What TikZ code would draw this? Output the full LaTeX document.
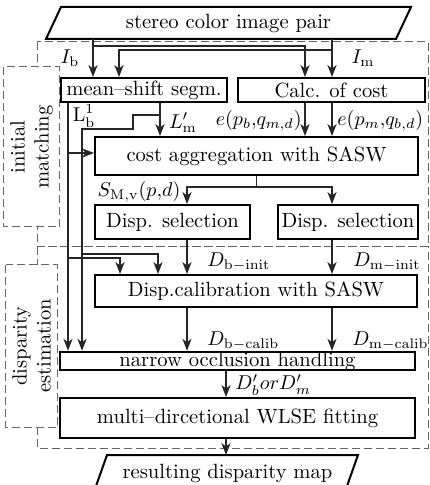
\documentclass[tikz,border=0pt]{standalone}
\usepackage{amsmath,amssymb}
\usepackage{tikz}
\usetikzlibrary{arrows.meta}

\tikzset{
  box/.style={draw,line width=1pt,inner sep=0pt,font=\fontsize{10.3}{12.4}\selectfont},
  lbl/.style={inner sep=0pt,font=\fontsize{10.3}{12.4}\selectfont},
  grp/.style={draw=black!60,dashed,dash pattern=on 4pt off 2pt,line width=0.5pt},
  conn/.style={draw=black!85,line width=0.6pt,-{Stealth[length=6pt,width=4.6pt,inset=1.8pt]}},
}

\begin{document}
\begin{tikzpicture}[x=0.5pt,y=-0.5pt]
    \useasboundingbox (0,0) rectangle (429,485);
    \draw[grp] (37,42) rectangle (428,247);
    \draw[grp] (37,247) rectangle (428,448);
    \node[grp,fill=white,rotate=90,align=center,font=\fontsize{10.3}{12}\selectfont,
      minimum width=80pt,minimum height=23.5pt] (initm) at (31.5,147) {initial\\matching};
    \node[grp,fill=white,rotate=90,align=center,font=\fontsize{10.3}{12}\selectfont,
      minimum width=81pt,minimum height=23.5pt] (dispe) at (31.5,346) {disparity\\estimation};

    \node[box,draw=none,minimum width=174pt,minimum height=15pt] (inp) at (228.5,23) {stereo color image pair};
    \draw[line width=1pt] ([xshift=3.75pt]inp.north west) -- ([xshift=3.75pt]inp.north east)
      -- ([xshift=-3.75pt]inp.south east) -- ([xshift=-3.75pt]inp.south west) -- cycle;
    \node[box,minimum width=83pt,minimum height=12pt] (seg) at (144,90) {mean--shift segm.};
    \node[box,minimum width=93.5pt,minimum height=12pt] (calc) at (331.5,90) {Calc. of cost};
    \node[box,minimum width=161.5pt,minimum height=19pt] (agg) at (256.5,156) {cost aggregation with SASW};
    \node[box,minimum width=77.5pt,minimum height=17pt] (selb) at (172.5,222) {Disp. selection};
    \node[box,minimum width=70pt,minimum height=17pt] (selm) at (348,222) {Disp. selection};
    \node[box,minimum width=161pt,minimum height=16pt] (calib) at (256,291) {Disp.calibration with SASW};
    \node[box,minimum width=177.5pt,minimum height=8pt] (occl) at (237.5,361) {narrow occlusion handling};
    \node[box,minimum width=177.5pt,minimum height=20pt] (wlse) at (237.5,418) {multi--dircetional WLSE fitting};
    \node[box,draw=none,minimum width=124.5pt,minimum height=17pt] (outp) at (227.5,473) {resulting disparity map};
    \draw[line width=1pt] ([xshift=2.5pt]outp.north west) -- ([xshift=2.5pt]outp.north east)
      -- ([xshift=-6pt,yshift=-24pt]outp.north east) -- ([xshift=-6pt,yshift=-24pt]outp.north west) -- cycle;

    \foreach \n/\x in {la/68,lm/82,ib/93,ma/119,mb/120,mc/158,md/160,dl/187,ow/226,cl/305,im/332}
      \coordinate (\n) at (\x,0);

    \draw[conn] (ib |- inp.south) -- (ib |- seg.north);
    \draw[conn] (im |- inp.south) -- (im |- calc.north);
    \draw[conn] (ib |- 0,46) -| (cl |- calc.north);
    \draw[conn] (im |- 0,50) -| (ma |- seg.north);
    \draw[conn] (la |- seg.south) -- (la |- occl.north);
    \draw[conn] (la |- 0,153) -- (agg.west |- 0,153);
    \draw[conn] (la |- 0,258) -| (mb |- calib.north);
    \draw[conn] (md |- seg.south) -- (md |- agg.north);
    \draw[conn] (md |- 0,115) -| (133,129) -| (lm |- occl.north);
    \draw[conn] (lm |- 0,254) -| (mc |- calib.north);
    \draw[conn] (cl |- calc.south) -- (cl |- agg.north);
    \draw[conn] (im |- calc.south) -- (im |- agg.north);
    \draw[conn] (agg.south) |- (dl |- 0,187) -- (dl |- selb.north);
    \draw[conn] (agg.south |- 0,187) -| (im |- selm.north);
    \draw[conn] (dl |- selb.south) -- (dl |- calib.north);
    \draw[conn] (im |- selm.south) -- (im |- calib.north);
    \draw[conn] (dl |- calib.south) -- (dl |- occl.north);
    \draw[conn] (im |- calib.south) -- (im |- occl.north);
    \draw[conn] (ow |- occl.south) -- (ow |- wlse.north);
    \draw[conn] (ow |- wlse.south) -- (ow |- outp.north);

    \node[lbl] (tib) at (70,58) {$I_{\mathrm{b}}$};
    \node[lbl] (tim) at (363,58) {$I_{\mathrm{m}}$};
    \node[lbl] (tlb) at (84,116) {$\mathrm{L}^{1}_{\mathrm{b}}$};
    \node[lbl] (tlm) at (183,123) {$L'_{\mathrm{m}}$};
    \node[lbl,anchor=east] (teb) at (302,121) {$e(p_b{,}q_{m,d})$};
    \node[lbl,anchor=west] (tem) at (337,121) {$e(p_m{,}q_{b,d})$};
    \node[lbl] (tsm) at (139,192) {$S_{\mathrm{M,v}}(p{,}d)$};
    \node[lbl,anchor=west] (tdbi) at (207,262) {$D_{\mathrm{b-init}}$};
    \node[lbl,anchor=west] (tdmi) at (353,262) {$D_{\mathrm{m-init}}$};
    \node[lbl,anchor=west] (tdbc) at (207,341) {$D_{\mathrm{b-calib}}$};
    \node[lbl,anchor=west] (tdmc) at (352,341) {$D_{\mathrm{m-calib}}$};
    \node[lbl,anchor=west] (tdo) at (235,385) {$D'_b or D'_m$};
  \end{tikzpicture}
\end{document}
